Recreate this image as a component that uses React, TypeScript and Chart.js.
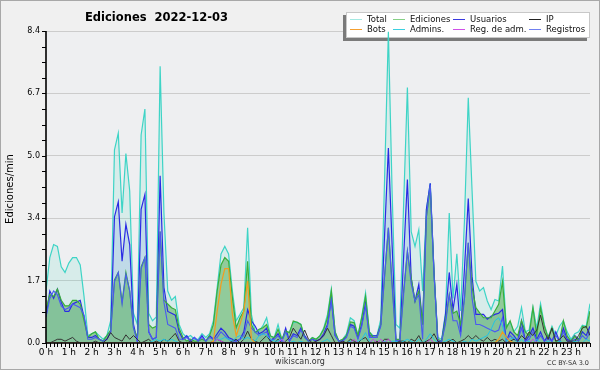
import React, { useEffect, useRef } from 'react';
import { Chart, registerables } from 'chart.js';

Chart.register(...registerables);

// x positions: one sample every 10 minutes over the day (minutes since 00:00)
const MINUTES: number[] = Array.from({ length: 144 }, (_, i) => i * 10);
const HOUR_LABELS: string[] = Array.from({ length: 24 }, (_, h) => `${h} h`);
const Y_TICKS = [0, 1.68, 3.36, 5.04, 6.72, 8.4];
const Y_TICK_LABELS = ['0.0', '1.7', '3.4', '5.0', '6.7', '8.4'];
const Y_MINOR_STEP = 0.42;

const TOTAL = [
  1.4, 2.3, 2.65, 2.6, 2.05, 1.9,
  2.15, 2.3, 2.3, 2.1, 1.25, 0.2,
  0.25, 0.3, 0.2, 0.1, 0.2, 0.6,
  5.2, 5.65, 3.5, 5.1, 4.1, 0.8,
  0.5, 5.6, 6.3, 0.8, 0.6, 0.7,
  7.45, 3.5, 1.4, 1.15, 1.25, 0.5,
  0.25, 0.15, 0.2, 0.1, 0.1, 0.25,
  0.15, 0.25, 0.6, 1.5, 2.4, 2.6,
  2.4, 1.4, 0.6, 0.77, 0.95, 3.1,
  0.77, 0.28, 0.32, 0.46, 0.68, 0.19,
  0.15, 0.5, 0.1, 0.25, 0.3, 0.55,
  0.56, 0.5, 0.15, 0.05, 0.15, 0.1,
  0.2, 0.4, 0.77, 1.45, 0.3, 0.05,
  0.1, 0.25, 0.68, 0.6, 0.2, 0.72,
  1.35, 0.3, 0.2, 0.2, 0.64, 4.4,
  8.38, 4.0, 0.5, 0.4, 3.7, 6.88,
  3.0, 2.6, 3.05, 1.4, 3.6, 4.3,
  1.9, 0.15, 0.1, 0.8, 3.5, 1.2,
  2.4, 0.86, 3.3, 6.6, 4.1, 1.66,
  1.4, 1.49, 1.13, 0.9, 1.17, 1.13,
  2.07, 0.45, 0.55, 0.3, 0.45, 0.96,
  0.3, 0.35, 0.96, 0.4, 1.06, 0.5,
  0.15, 0.45, 0.2, 0.45, 0.6, 0.3,
  0.1, 0.25, 0.3, 0.48, 0.45, 1.06,
];

const EDICIONES = [
  0.9, 1.3, 1.25, 1.45, 1.15, 1.0,
  1.0, 1.15, 1.15, 1.05, 0.6, 0.15,
  0.25, 0.3, 0.1, 0.05, 0.2, 0.35,
  1.7, 1.9, 1.1, 1.9, 1.4, 0.4,
  0.15, 2.05, 2.3, 0.5, 0.4, 0.45,
  3.0, 1.15, 1.05, 0.95, 0.9, 0.4,
  0.15, 0.05, 0.1, 0.05, 0.05, 0.1,
  0.05, 0.2, 0.5, 1.4, 2.1, 2.3,
  2.2, 1.22, 0.41, 0.68, 0.86, 2.2,
  0.5, 0.28, 0.37, 0.41, 0.5, 0.19,
  0.14, 0.37, 0.1, 0.32, 0.28, 0.59,
  0.56, 0.5, 0.15, 0.05, 0.14, 0.1,
  0.19, 0.37, 0.68, 1.4, 0.3, 0.05,
  0.1, 0.2, 0.57, 0.55, 0.2, 0.68,
  1.26, 0.3, 0.15, 0.15, 0.5, 1.8,
  3.1, 1.6, 0.1, 0.1, 1.4, 2.47,
  1.75, 1.13, 1.4, 0.5, 3.4, 4.2,
  1.9, 0.1, 0.05, 0.6, 1.3, 0.8,
  0.86, 0.5, 1.2, 2.7, 1.5, 0.95,
  0.81, 0.68, 0.68, 0.68, 0.86, 1.04,
  1.65, 0.4, 0.6, 0.3, 0.2, 0.6,
  0.3, 0.2, 0.95, 0.2, 0.95, 0.45,
  0.14, 0.4, 0.05, 0.05, 0.6, 0.19,
  0.05, 0.19, 0.05, 0.45, 0.41, 0.86,
];

const USUARIOS = [
  0.7, 1.4, 1.2, 1.45, 1.1, 0.85,
  0.85, 1.05, 1.1, 1.15, 0.7, 0.15,
  0.15, 0.2, 0.1, 0.05, 0.1, 0.3,
  3.4, 3.8, 2.2, 3.2, 2.65, 0.5,
  0.05, 3.6, 4.0, 0.3, 0.1, 0.15,
  4.5, 1.5, 0.85, 0.8, 0.75, 0.3,
  0.1, 0.2, 0.05, 0.15, 0.05, 0.2,
  0.05, 0.2, 0.1, 0.25, 0.4, 0.3,
  0.15, 0.1, 0.05, 0.1, 0.3, 0.9,
  0.6, 0.45, 0.25, 0.3, 0.4, 0.05,
  0.15, 0.25, 0.05, 0.4, 0.05, 0.25,
  0.2, 0.4, 0.2, 0.05, 0.1, 0.05,
  0.1, 0.25, 0.5, 1.2, 0.2, 0.05,
  0.05, 0.2, 0.5, 0.45, 0.15, 0.5,
  1.08, 0.19, 0.19, 0.19, 0.5, 2.9,
  5.25, 2.6, 0.05, 0.05, 2.3, 4.4,
  1.75, 1.13, 1.58, 0.5, 3.6, 4.3,
  1.9, 0.05, 0.05, 0.75, 1.9, 0.9,
  1.58, 0.3, 2.0, 3.89, 1.8, 0.77,
  0.77, 0.77, 0.64, 0.72, 0.77, 0.8,
  0.9, 0.05, 0.3, 0.2, 0.05, 0.6,
  0.05, 0.2, 0.4, 0.1, 0.3, 0.05,
  0.2, 0.05, 0.3, 0.05, 0.4, 0.1,
  0.05, 0.2, 0.1, 0.3, 0.2, 0.45,
];

const REGISTROS = [
  0.7, 1.2, 1.4, 1.3, 1.0, 0.9,
  0.95, 1.05, 1.0, 0.95, 0.75, 0.1,
  0.1, 0.15, 0.1, 0.05, 0.1, 0.3,
  1.65, 1.9, 1.05, 1.85, 1.4, 0.4,
  0.05, 2.0, 2.3, 0.3, 0.1, 0.15,
  3.0, 1.1, 0.5, 0.45, 0.4, 0.1,
  0.1, 0.15, 0.05, 0.15, 0.05, 0.15,
  0.05, 0.15, 0.1, 0.15, 0.3, 0.2,
  0.1, 0.05, 0.05, 0.1, 0.2, 0.6,
  0.4, 0.3, 0.2, 0.25, 0.3, 0.05,
  0.1, 0.2, 0.05, 0.3, 0.05, 0.2,
  0.15, 0.35, 0.15, 0.05, 0.1, 0.05,
  0.1, 0.2, 0.45, 1.15, 0.2, 0.05,
  0.05, 0.15, 0.45, 0.4, 0.1, 0.45,
  1.0, 0.15, 0.15, 0.15, 0.45, 1.8,
  3.1, 1.5, 0.05, 0.05, 1.3, 2.47,
  1.6, 1.13, 1.3, 0.1, 3.4, 4.25,
  1.85, 0.05, 0.05, 0.5, 1.3, 0.6,
  0.6, 0.2, 1.2, 2.7, 1.2, 0.5,
  0.5, 0.45, 0.4, 0.35, 0.3, 0.35,
  0.68, 0.05, 0.2, 0.1, 0.05, 0.4,
  0.05, 0.1, 0.3, 0.05, 0.2, 0.05,
  0.1, 0.05, 0.2, 0.05, 0.3, 0.05,
  0.05, 0.1, 0.05, 0.2, 0.1, 0.3,
];

const IP = [
  0, 0, 0.05, 0.1, 0.1, 0.05,
  0.1, 0.15, 0.05, 0, 0, 0,
  0, 0.05, 0, 0, 0.1, 0.28,
  0.15, 0.1, 0.05, 0.22, 0.1, 0.2,
  0.1, 0, 0.05, 0.1, 0, 0.05,
  0, 0.1, 0.05, 0.15, 0.26, 0.05,
  0, 0, 0.05, 0, 0, 0,
  0, 0, 0.05, 0.1, 0.05, 0,
  0, 0.05, 0.1, 0, 0.1, 0.32,
  0.1, 0.05, 0, 0.1, 0.2, 0.05,
  0, 0.1, 0, 0.05, 0.15, 0.4,
  0.25, 0.1, 0.35, 0.1, 0, 0.05,
  0.1, 0.2, 0.4, 0.2, 0, 0,
  0.05, 0, 0.1, 0.05, 0, 0.1,
  0.15, 0, 0, 0.05, 0, 0.1,
  0.1, 0, 0, 0.05, 0.05, 0,
  0.1, 0.05, 0.2, 0, 0.05, 0.1,
  0.25, 0.05, 0, 0, 0.05, 0.1,
  0, 0.05, 0.1, 0.2, 0.1, 0.2,
  0.1, 0.05, 0.15, 0.05, 0.1, 0.05,
  0.1, 0, 0.05, 0.1, 0.05, 0.2,
  0.1, 0.3, 0.2, 0.35, 0.75, 0.3,
  0.1, 0.4, 0.05, 0.1, 0.2, 0.05,
  0.05, 0.05, 0.2, 0.4, 0.45, 0.2,
];

const BOTS = [
  0, 0, 0, 0, 0, 0,
  0, 0, 0, 0, 0, 0,
  0, 0, 0, 0, 0, 0,
  0, 0, 0, 0, 0, 0,
  0, 0, 0, 0, 0, 0,
  0, 0, 0, 0, 0, 0,
  0, 0, 0, 0, 0, 0,
  0, 0, 0.05, 0.86, 1.58, 2.0,
  2.0, 0.77, 0.19, 0.5, 0.86, 1.67,
  0.1, 0, 0, 0, 0, 0,
  0, 0, 0, 0, 0, 0,
  0, 0, 0, 0, 0, 0,
  0, 0, 0, 0, 0, 0,
  0, 0, 0, 0, 0, 0,
  0, 0, 0, 0, 0, 0,
  0, 0, 0, 0, 0, 0,
  0, 0, 0, 0, 0, 0,
  0, 0, 0, 0, 0, 0,
  0, 0, 0, 0, 0, 0,
  0, 0, 0, 0, 0, 0.1,
  0.3, 0.15, 0.05, 0, 0, 0,
  0, 0, 0, 0, 0, 0,
  0, 0, 0, 0, 0, 0,
  0, 0, 0, 0, 0, 0,
];

const ADMINS = [
  0, 0, 0, 0, 0, 0,
  0, 0, 0, 0, 0, 0,
  0, 0, 0, 0, 0, 0,
  0, 0, 0, 0, 0, 0,
  0, 0, 0, 0, 0.05, 0.1,
  0.05, 0.1, 0.05, 0.1, 0.05, 0,
  0, 0, 0, 0, 0, 0,
  0, 0, 0.05, 0.1, 0.1, 0.15,
  0.1, 0.05, 0.15, 0.2, 0.1, 0.15,
  0.1, 0.05, 0.2, 0.25, 0.2, 0.1,
  0.05, 0.05, 0.1, 0, 0, 0.05,
  0, 0.05, 0, 0, 0, 0,
  0, 0.05, 0.1, 0, 0, 0,
  0, 0, 0.05, 0, 0.05, 0.1,
  0.28, 0.05, 0, 0, 0, 0.05,
  0, 0.05, 0.05, 0, 0.05, 0.1,
  0.05, 0, 0.1, 0, 0.1, 0.25,
  0.1, 0, 0, 0.05, 0.1, 0.05,
  0, 0, 0.05, 0, 0.1, 0.05,
  0.1, 0.15, 0.2, 0.37, 0.6, 0.68,
  0.46, 0.05, 0.1, 0.15, 0, 0.1,
  0, 0.05, 0, 0.1, 0, 0,
  0.05, 0, 0, 0.05, 0, 0,
  0, 0.05, 0, 0, 0.1, 0.05,
];

const REG_ADM = [
  0, 0, 0, 0, 0, 0,
  0, 0, 0, 0, 0, 0,
  0, 0, 0, 0, 0, 0,
  0, 0, 0, 0, 0, 0,
  0, 0, 0, 0, 0, 0,
  0, 0, 0, 0, 0, 0,
  0, 0, 0, 0, 0, 0,
  0, 0, 0, 0.1, 0.05, 0,
  0, 0, 0, 0, 0, 0,
  0, 0, 0, 0, 0, 0,
  0, 0, 0.1, 0, 0, 0,
  0, 0, 0, 0, 0, 0,
  0, 0, 0, 0, 0, 0,
  0, 0, 0, 0.1, 0, 0,
  0, 0, 0.1, 0, 0.1, 0,
  0.1, 0, 0, 0, 0, 0,
  0, 0, 0, 0, 0, 0.1,
  0, 0, 0, 0, 0, 0,
  0, 0, 0, 0, 0, 0,
  0, 0, 0, 0, 0, 0,
  0, 0, 0, 0, 0, 0,
  0, 0, 0.1, 0, 0, 0,
  0, 0, 0, 0, 0, 0,
  0, 0, 0, 0, 0, 0,
];

const FONT = '"DejaVu Sans", "Noto Sans", sans-serif';

type Serie = {
  label: string;
  data: number[];
  color: string;
  legend: string;
  fill: string | null;
  order: number;
  width: number;
};

// legend order: row 1 then row 2
const SERIES: Serie[] = [
  { label: 'Total', data: TOTAL, color: '#3ed4c6', legend: '#a4e9e2', fill: 'rgba(64,214,196,0.13)', order: 10, width: 1.2 },
  { label: 'Ediciones', data: EDICIONES, color: '#3aae3a', legend: '#86d086', fill: 'rgba(60,165,60,0.45)', order: 8, width: 1.2 },
  { label: 'Usuarios', data: USUARIOS, color: '#2a2ae4', legend: '#3a3ae0', fill: 'rgba(90,140,230,0.18)', order: 9, width: 1.2 },
  { label: 'IP', data: IP, color: '#333333', legend: '#222222', fill: null, order: 6, width: 1 },
  { label: 'Bots', data: BOTS, color: '#f39c1f', legend: '#f5a030', fill: null, order: 3, width: 1.2 },
  { label: 'Admins.', data: ADMINS, color: '#22c4e6', legend: '#3cd0e0', fill: null, order: 5, width: 1 },
  { label: 'Reg. de adm.', data: REG_ADM, color: '#d040e8', legend: '#d050e8', fill: null, order: 4, width: 1 },
  { label: 'Registros', data: REGISTROS, color: '#4a5af0', legend: '#7080f0', fill: null, order: 7, width: 1.1 },
];

const LEGEND_COLS = [350, 393, 453, 529];
const LEGEND_ROWS = [19, 29];

const decor = {
  id: 'decor',
  beforeDraw(chart: any) {
    const { ctx, chartArea: a, width, height } = chart;
    ctx.save();
    ctx.fillStyle = '#f0f0f0';
    ctx.fillRect(0, 0, width, height);
    ctx.fillStyle = '#eeeff1';
    ctx.fillRect(a.left, a.top, a.right - a.left, a.bottom - a.top);
    ctx.restore();
  },
  beforeDatasetsDraw(chart: any) {
    const { ctx } = chart;
    ctx.save();
    // legend (the data lines are drawn over it, as in the original)
    ctx.fillStyle = '#7a7a7a';
    ctx.fillRect(343, 15, 244, 26);
    ctx.fillStyle = '#ffffff';
    ctx.fillRect(346, 12, 244, 26);
    ctx.strokeStyle = '#c8c8c8';
    ctx.lineWidth = 1;
    ctx.strokeRect(346.5, 12.5, 243, 25);
    ctx.font = `8.5px ${FONT}`;
    ctx.textBaseline = 'middle';
    ctx.textAlign = 'left';
    SERIES.forEach((s, i) => {
      const x = LEGEND_COLS[i % 4];
      const y = LEGEND_ROWS[Math.floor(i / 4)];
      ctx.strokeStyle = s.legend;
      ctx.lineWidth = 1;
      ctx.beginPath();
      ctx.moveTo(x, y + 0.5);
      ctx.lineTo(x + 12, y + 0.5);
      ctx.stroke();
      ctx.fillStyle = '#111';
      ctx.fillText(s.label, x + 17, y + 0.5);
    });
    ctx.restore();
  },
  afterDraw(chart: any) {
    const { ctx, chartArea: a, scales, width, height } = chart;
    const xs = scales.x;
    const ys = scales.y;
    ctx.save();
    // tick marks
    ctx.strokeStyle = '#000';
    ctx.lineWidth = 1;
    ctx.beginPath();
    for (const m of MINUTES) {
      const px = Math.round(xs.getPixelForValue(m)) + 0.5;
      ctx.moveTo(px, a.bottom);
      ctx.lineTo(px, a.bottom + (m % 60 === 0 ? 5 : 4));
    }
    const yMax = Y_TICKS[Y_TICKS.length - 1];
    for (let v = 0; v <= yMax + 1e-6; v += Y_MINOR_STEP) {
      const py = Math.round(ys.getPixelForValue(v)) + 0.5;
      ctx.moveTo(a.left - 4, py);
      ctx.lineTo(a.left, py);
    }
    ctx.stroke();
    // axis lines
    ctx.lineWidth = 1.6;
    ctx.beginPath();
    ctx.moveTo(a.left, a.top);
    ctx.lineTo(a.left, a.bottom);
    ctx.lineTo(a.right, a.bottom);
    ctx.stroke();

    // title
    ctx.fillStyle = '#000';
    ctx.font = `bold 11.5px ${FONT}`;
    ctx.textAlign = 'left';
    ctx.textBaseline = 'alphabetic';
    ctx.fillText('Ediciones  2022-12-03', 85, 21);

    // y axis title
    ctx.save();
    ctx.translate(13, 189);
    ctx.rotate(-Math.PI / 2);
    ctx.font = `10px ${FONT}`;
    ctx.textAlign = 'center';
    ctx.fillText('Ediciones/min', 0, 0);
    ctx.restore();

    // footer
    ctx.textBaseline = 'alphabetic';
    ctx.fillStyle = '#333';
    ctx.font = `8px ${FONT}`;
    ctx.textAlign = 'center';
    ctx.fillText('wikiscan.org', 300, 364);
    ctx.font = `6.5px ${FONT}`;
    ctx.textAlign = 'right';
    ctx.fillText('CC BY-SA 3.0', 589, 365);

    // outer frame
    ctx.strokeStyle = '#a8a8a8';
    ctx.lineWidth = 1;
    ctx.strokeRect(0.5, 0.5, width - 1, height - 1);
    ctx.restore();
  },
};

export default function App() {
  const ref = useRef<HTMLCanvasElement | null>(null);

  useEffect(() => {
    if (!ref.current) return;
    const datasets = SERIES.map((s) => ({
      label: s.label,
      data: MINUTES.map((m, i) => ({ x: m, y: s.data[i] })),
      borderColor: s.color,
      borderWidth: s.width,
      backgroundColor: s.fill || 'transparent',
      fill: s.fill ? 'origin' : false,
      order: s.order,
      pointRadius: 0,
      tension: 0,
    }));
    const chart = new Chart(ref.current, {
      type: 'line',
      data: { datasets },
      plugins: [decor],
      options: {
        animation: false,
        responsive: false,
        devicePixelRatio: 1,
        events: [],
        layout: { padding: { left: 0, top: 31, right: 10, bottom: 0 } },
        plugins: {
          legend: { display: false },
          tooltip: { enabled: false },
          title: { display: false },
          filler: { drawTime: 'beforeDatasetsDraw' },
        },
        scales: {
          x: {
            type: 'linear',
            min: MINUTES[0],
            max: MINUTES[MINUTES.length - 1],
            afterFit: (s: any) => { s.height = 27; },
            afterBuildTicks: (s: any) => { s.ticks = HOUR_LABELS.map((_, h) => ({ value: h * 60 })); },
            ticks: {
              autoSkip: false,
              maxRotation: 0,
              minRotation: 0,
              padding: 4,
              color: '#000',
              font: { family: FONT, size: 9 },
              callback: (_v: any, i: number) => HOUR_LABELS[i],
            },
            grid: { display: false, drawTicks: false },
            border: { display: false },
          },
          y: {
            type: 'linear',
            min: Y_TICKS[0],
            max: Y_TICKS[Y_TICKS.length - 1],
            afterFit: (s: any) => { s.width = 46; },
            afterBuildTicks: (s: any) => { s.ticks = Y_TICKS.map((v) => ({ value: v })); },
            ticks: {
              padding: 6,
              color: '#000',
              font: { family: FONT, size: 8 },
              callback: (_v: any, i: number) => Y_TICK_LABELS[i],
            },
            grid: { color: '#cccccc', lineWidth: 1, drawTicks: false },
            border: { display: false },
          },
        },
      } as any,
    });
    return () => chart.destroy();
  }, []);

  return (
    <div style={{ position: 'fixed', left: 0, top: 0, width: 600, height: 370 }}>
      <canvas ref={ref} width={600} height={370} style={{ display: 'block' }} />
    </div>
  );
}
